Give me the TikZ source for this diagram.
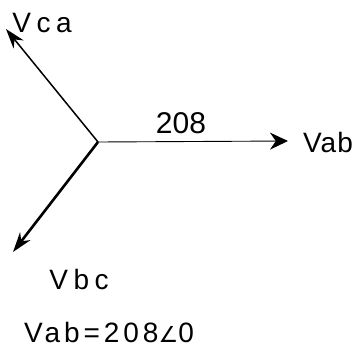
\documentclass[tikz,border=0pt]{standalone}
\usepackage{fontspec}
\setmainfont{Liberation Sans}
\newfontfamily\symfont{DejaVu Sans}
\usetikzlibrary{arrows.meta}
\begin{document}
\begin{tikzpicture}[x=1pt,y=-1pt,
  vec/.style={-{Stealth[length=20pt,width=13pt]}},
  lbl/.style={font=\fontsize{28}{30}\selectfont\addfontfeature{LetterSpace=20},inner sep=0pt}]
\useasboundingbox (0,0) rectangle (358,351);
\coordinate (o) at (98,142);
\coordinate (ab) at (288,141);
\coordinate (ca) at (6,29);
\coordinate (bc) at (13,252);
\draw[-{Stealth[length=18pt,width=17pt]},line width=0.9pt] (o) -- (ab);
\draw[vec,line width=1.5pt] (o) -- (ca);
\draw[vec,line width=2.6pt] (o) -- (bc);
\node[lbl] (lca) at (42,23) {Vca};
\node[lbl,font=\fontsize{28}{30}\selectfont\addfontfeature{LetterSpace=4}] (lab) at (328,142) {Vab};
\node[lbl,font=\fontsize{30}{32}\selectfont] (l208) at (181,123) {208};
\node[lbl] (lbc) at (79,279) {Vbc};
\node[lbl,anchor=west,font=\fontsize{28}{30}\selectfont\addfontfeature{LetterSpace=14}] (eq) at (24,332) {Vab=208{\symfont\fontsize{22}{24}\selectfont ∠}0};
\end{tikzpicture}
\end{document}
